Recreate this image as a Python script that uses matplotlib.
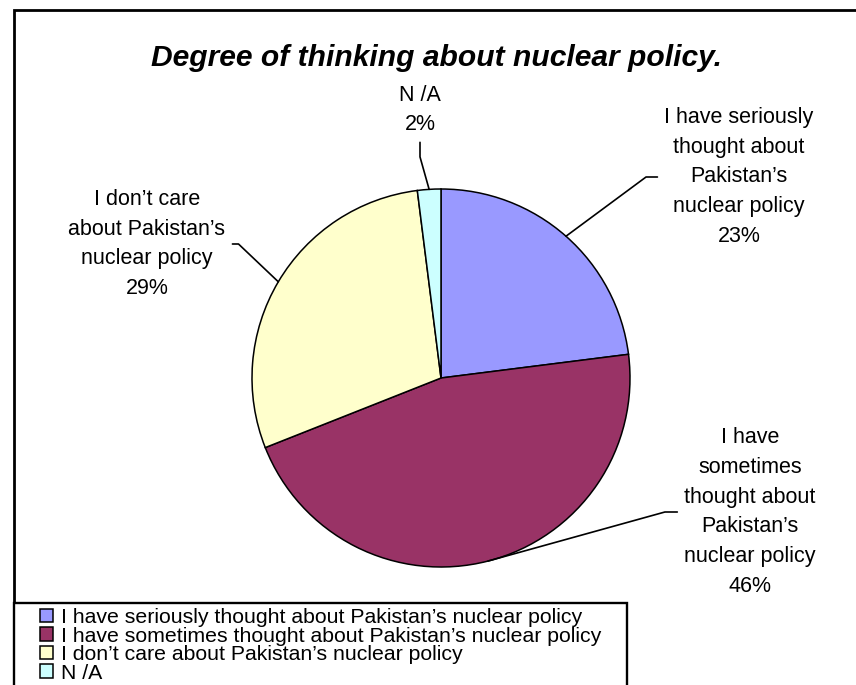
import numpy as np
import matplotlib
matplotlib.use('Agg')
import matplotlib.pyplot as plt
from matplotlib.patches import Rectangle

plt.rcParams['font.family'] = ['Liberation Sans', 'DejaVu Sans']

# survey answers and their shares (%)
answers = ['I have seriously thought about Pakistan’s nuclear policy',
           'I have sometimes thought about Pakistan’s nuclear policy',
           'I don’t care about Pakistan’s nuclear policy',
           'N /A']
shares = [23, 46, 29, 2]
# how the answers are broken over lines next to the pie
pie_labels = ['I have seriously\nthought about\nPakistan’s\nnuclear policy',
              'I have\nsometimes\nthought about\nPakistan’s\nnuclear policy',
              'I don’t care\nabout Pakistan’s\nnuclear policy',
              'N /A']
colors = ['#9999FF', '#993366', '#FFFFCC', '#CCFFFF']

W, H = 856, 685
fig = plt.figure(figsize=(W / 100, H / 100), dpi=100)

# chart frame (runs off the right and bottom of the image)
fig.patches.append(Rectangle((13.7 / W, -20 / H), (W + 20) / W, (H - 10.3 + 20) / H,
                             transform=fig.transFigure, fill=False,
                             edgecolor='black', linewidth=2.0))

fig.text(437 / W, 1 - 58 / H, 'Degree of thinking about nuclear policy.',
         ha='center', va='center', fontsize=21.6, fontweight='bold', fontstyle='italic')

# pie: centre (441, 378) px, radius 189 px
cx, cy, r = 441, 378, 189
ax = fig.add_axes([(cx - r) / W, (H - cy - r) / H, 2 * r / W, 2 * r / H])
wedges, _ = ax.pie(shares, colors=colors, startangle=90, counterclock=False,
                   radius=1, wedgeprops=dict(edgecolor='black', linewidth=1.1))
ax.set_xlim(-1, 1)
ax.set_ylim(-1, 1)
ax.set_aspect('equal')
ax.axis('off')

# label centre (px), side the leader leaves from, leader angles
label_layout = [
    ((739, 177), (0, 0.5), 0, 36.5),
    ((750, 512), (0, 0.5), 0, 15.5),
    ((147, 244), (1, 0.5), 0, 136.5),
    ((420, 110), (0.5, 0), 90, 105.7),
]

for w, txt, v, (pos, rel, angA, angB) in zip(wedges, pie_labels, shares, label_layout):
    mid = np.deg2rad((w.theta1 + w.theta2) / 2)
    edge = (np.cos(mid), np.sin(mid))
    tx = (pos[0] - cx) / r
    ty = (cy - pos[1]) / r
    ax.annotate(f'{txt}\n{v}%', xy=edge, xytext=(tx, ty),
                ha='center', va='center', fontsize=15.5, linespacing=1.55,
                annotation_clip=False,
                arrowprops=dict(arrowstyle='-', color='black', linewidth=1.2,
                                relpos=rel, shrinkA=3, shrinkB=0,
                                connectionstyle=f'angle,angleA={angA},angleB={angB},rad=0'))

# legend box in the lower left corner
fig.patches.append(Rectangle((13.7 / W, -20 / H), (626.5 - 13.7) / W, (H - 603 + 20) / H,
                             transform=fig.transFigure, facecolor='white',
                             edgecolor='black', linewidth=1.7, zorder=3))
leg = fig.legend(wedges, answers, loc='upper left',
                 bbox_to_anchor=(40 / W, 1 - 608 / H), frameon=False,
                 fontsize=15.3, handlelength=0.6, handleheight=0.6,
                 handletextpad=0.38, labelspacing=-0.02, borderpad=0,
                 borderaxespad=0)
leg.set_zorder(4)

fig.savefig('out.png', dpi=100)
